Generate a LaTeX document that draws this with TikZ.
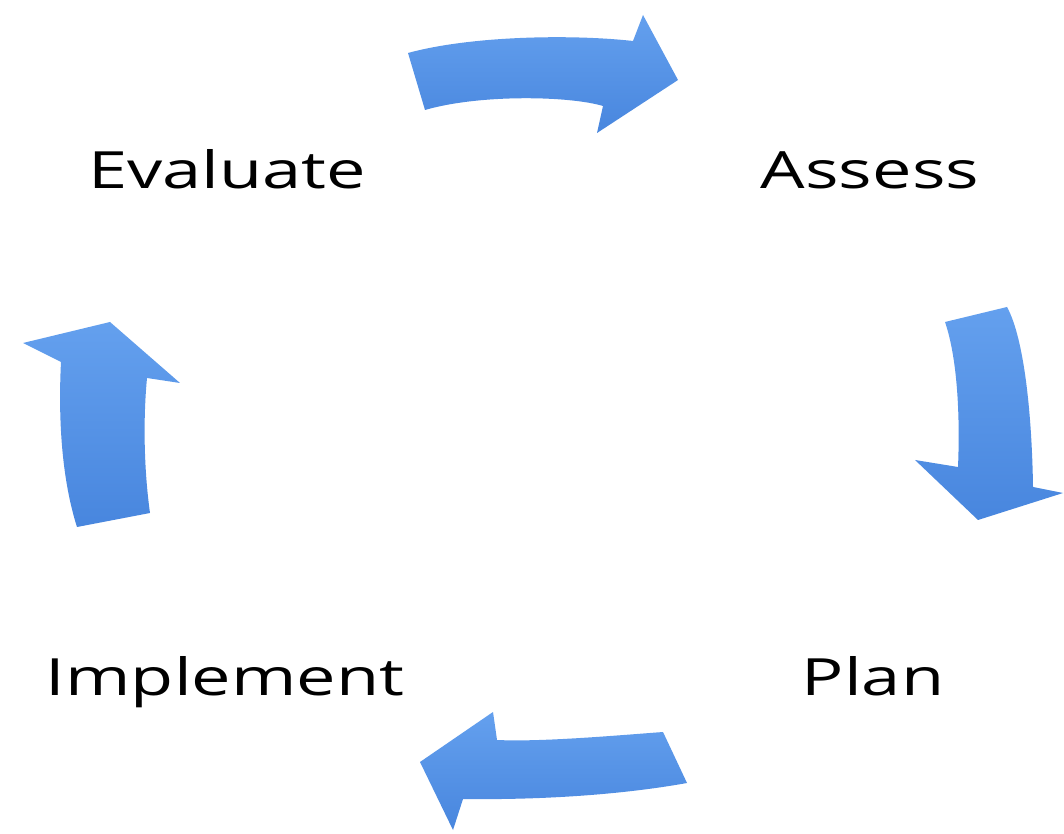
\documentclass[tikz,border=0pt]{standalone}
\usepackage{fontspec}
\setmainfont{Open Sans}
\usepackage{tikz}
\definecolor{arrowblue}{RGB}{72,134,222}
\definecolor{arrowlight}{RGB}{100,160,238}
\tikzset{
	cyclearrow/.style={draw=none, top color=arrowlight, bottom color=arrowblue},
	steplabel/.style={anchor=base, inner sep=0pt, font=\fontsize{14.6}{17}\selectfont, xscale=1.37, transform shape}
}

\begin{document}
\begin{tikzpicture}[x=0.01cm, y=-0.01cm]
		%%%%% START %%%%%
		
		\useasboundingbox[fill=white] (0, 0) rectangle (1064, 834);
		
		\node[steplabel] (evaluate) at (227, 189) {Evaluate};
		\node[steplabel] (assess) at (870, 189) {Assess};
		\node[steplabel] (implement) at (225, 695) {Implement};
		\node[steplabel] (plan) at (873, 695) {Plan};
		
		% top, to the right
		\shade[cyclearrow] (408, 53) .. controls (470, 36) and (570, 34) .. (633, 41) -- (643, 15) -- (678, 80)
			-- (597, 133) -- (603, 106) .. controls (570, 96) and (480, 94) .. (425, 110) -- cycle;
		
		% right, downwards
		\shade[cyclearrow] (945, 322) -- (1007, 307) .. controls (1025, 340) and (1032, 420) .. (1033, 487)
			-- (1063, 493) -- (978, 520) -- (915, 460) -- (958, 467) .. controls (960, 420) and (958, 360) .. (945, 322);
		
		% bottom, to the left
		\shade[cyclearrow] (663, 732) .. controls (610, 736) and (540, 742) .. (497, 740) -- (493, 712) -- (420, 762)
			-- (453, 830) -- (463, 799) .. controls (540, 800) and (620, 795) .. (687, 783) -- cycle;
		
		% left, upwards
		\shade[cyclearrow] (77, 527) -- (150, 513) .. controls (144, 470) and (143, 420) .. (147, 378) -- (180, 383)
			-- (110, 322) -- (23, 343) -- (61, 362) .. controls (58, 420) and (62, 480) .. (77, 527);
		
		%%%%% END %%%%%
	\end{tikzpicture}
\end{document}
